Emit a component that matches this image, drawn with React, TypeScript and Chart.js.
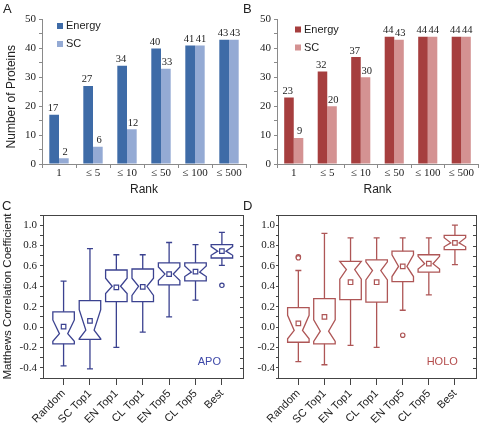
import React, { useEffect, useRef } from 'react';
import { Chart, registerables } from 'chart.js';

Chart.register(...registerables);

// ---------- data ----------
const rankLabels = ['1', '≤ 5', '≤ 10', '≤ 50', '≤ 100', '≤ 500'];
const apoEnergy = [17, 27, 34, 40, 41, 43];
const apoSC = [2, 6, 12, 33, 41, 43];
const holoEnergy = [23, 32, 37, 44, 44, 44];
const holoSC = [9, 20, 30, 43, 44, 44];
const proteinTickLabels = ['0', '10', '20', '30', '40', '50'];

const methods = ['Random', 'SC Top1', 'EN Top1', 'CL Top1', 'EN Top5', 'CL Top5', 'Best'];
const mccTickLabels = ['-0.4', '-0.2', '0.0', '0.2', '0.4', '0.6', '0.8', '1.0'];

const apoWhiskerHigh = [0.45, 0.77, 0.71, 0.71, 0.83, 0.81, 0.93];
const apoQ3 = [0.15, 0.26, 0.56, 0.57, 0.63, 0.63, 0.81];
const apoNotchHigh = [0.07, 0.17, 0.48, 0.48, 0.59, 0.6, 0.79];
const apoMedian = [-0.065, -0.03, 0.4, 0.4, 0.52, 0.54, 0.745];
const apoNotchLow = [-0.14, -0.115, 0.33, 0.31, 0.456, 0.496, 0.705];
const apoQ1 = [-0.165, -0.12, 0.25, 0.25, 0.414, 0.453, 0.678];
const apoWhiskerLow = [-0.38, -0.41, -0.2, -0.05, 0.1, 0.265, 0.605];
const apoMean = [0.005, 0.06, 0.39, 0.395, 0.52, 0.545, 0.745];
const apoOutlierMethod = [7];
const apoOutlierValue = [0.41];

const holoWhiskerHigh = [0.555, 0.92, 0.875, 0.875, 0.875, 0.875, 1.0];
const holoQ3 = [0.19, 0.28, 0.645, 0.66, 0.745, 0.71, 0.9];
const holoNotchHigh = [0.116, 0.07, 0.645, 0.64, 0.71, 0.694, 0.877];
const holoMedian = [-0.033, -0.04, 0.565, 0.555, 0.595, 0.622, 0.827];
const holoNotchLow = [-0.115, -0.14, 0.47, 0.463, 0.496, 0.569, 0.788];
const holoQ1 = [-0.149, -0.165, 0.27, 0.245, 0.446, 0.539, 0.761];
const holoWhiskerLow = [-0.34, -0.37, -0.18, -0.2, 0.165, 0.315, 0.612];
const holoMean = [0.036, 0.1, 0.44, 0.44, 0.595, 0.622, 0.827];
const holoOutlierMethod = [1, 1, 5];
const holoOutlierValue = [0.69, 0.68, -0.08];

// ---------- styles ----------
const SANS = '"Liberation Sans", Arial, sans-serif';
const SERIF = '"Liberation Serif", "Times New Roman", serif';
const TEXT = '#222';
const AXIS_GRAY = '#8a8a8a';
const FRAME = '#444';

// ---------- plugins ----------
const valueLabels = {
  id: 'valueLabels',
  afterDatasetsDraw(chart: any) {
    const ctx = chart.ctx;
    ctx.save();
    ctx.font = `10.5px ${SERIF}`;
    ctx.fillStyle = TEXT;
    ctx.textAlign = 'center';
    ctx.textBaseline = 'bottom';
    chart.data.datasets.forEach((ds: any, i: number) => {
      const meta = chart.getDatasetMeta(i);
      const shift = i === 0 ? -1.2 : 1.2;
      meta.data.forEach((bar: any, j: number) => {
        ctx.fillText(String(ds.data[j]), bar.x + shift, bar.y - 1);
      });
    });
    ctx.restore();
  },
};

function innerLegend(dx: number, dy: number, gap: number, box: number) {
  return {
    id: 'innerLegend',
    afterDraw(chart: any) {
      const ctx = chart.ctx;
      const { left, top } = chart.chartArea;
      ctx.save();
      ctx.font = `11px ${SANS}`;
      ctx.textBaseline = 'middle';
      ctx.textAlign = 'left';
      chart.data.datasets.forEach((ds: any, i: number) => {
        const y = top + dy + i * gap;
        ctx.fillStyle = ds.backgroundColor;
        ctx.fillRect(left + dx, y - box / 2, box, box);
        ctx.fillStyle = TEXT;
        ctx.fillText(ds.label, left + dx + box + 3, y);
      });
      ctx.restore();
    },
  };
}

function frameAndBoxes(stats: any, color: string, tag: string, tagColor: string, tagDx: number, tagDy: number) {
  return {
    id: 'boxes',
    beforeDatasetsDraw(chart: any) {
      const ctx = chart.ctx;
      const xs = chart.scales.x;
      const ys = chart.scales.y;
      const { left, right, top, bottom } = chart.chartArea;
      ctx.save();
      // frame
      ctx.strokeStyle = FRAME;
      ctx.lineWidth = 1;
      ctx.strokeRect(Math.round(left) + 0.5, Math.round(top) + 0.5, Math.round(right - left), Math.round(bottom - top));
      // inward ticks on the right side
      ctx.beginPath();
      ys.ticks.forEach((t: any) => {
        const y = Math.round(ys.getPixelForValue(t.value)) + 0.5;
        ctx.moveTo(Math.round(right), y);
        ctx.lineTo(Math.round(right) - 3, y);
      });
      ctx.stroke();

      // boxes
      const halfW = 10.75;
      const inset = 6.6;
      const cap = 3;
      ctx.strokeStyle = color;
      ctx.lineWidth = 1.3;
      ctx.lineJoin = 'miter';
      const py = (v: number) => ys.getPixelForValue(v);
      for (let i = 0; i < stats.q3.length; i++) {
        const x = xs.getPixelForValue(i + 1);
        const q3 = py(stats.q3[i]);
        const q1 = py(stats.q1[i]);
        const med = py(stats.median[i]);
        const nHi = py(Math.min(stats.notchHigh[i], stats.q3[i]));
        const nLo = py(Math.max(stats.notchLow[i], stats.q1[i]));
        const L = x - halfW;
        const R = x + halfW;
        ctx.beginPath();
        ctx.moveTo(L, q3);
        ctx.lineTo(R, q3);
        ctx.lineTo(R, nHi);
        ctx.lineTo(R - inset, med);
        ctx.lineTo(R, nLo);
        ctx.lineTo(R, q1);
        ctx.lineTo(L, q1);
        ctx.lineTo(L, nLo);
        ctx.lineTo(L + inset, med);
        ctx.lineTo(L, nHi);
        ctx.closePath();
        ctx.stroke();
        const wh = py(stats.whiskerHigh[i]);
        const wl = py(stats.whiskerLow[i]);
        ctx.beginPath();
        ctx.moveTo(x, q3);
        ctx.lineTo(x, wh);
        ctx.moveTo(x - cap, wh);
        ctx.lineTo(x + cap, wh);
        ctx.moveTo(x, q1);
        ctx.lineTo(x, wl);
        ctx.moveTo(x - cap, wl);
        ctx.lineTo(x + cap, wl);
        ctx.stroke();
      }
      // tag text
      ctx.font = `11px ${SANS}`;
      ctx.fillStyle = tagColor;
      ctx.textAlign = 'right';
      ctx.textBaseline = 'middle';
      ctx.fillText(tag, right + tagDx, bottom + tagDy);
      ctx.restore();
    },
  };
}

// ---------- configs ----------
function barConfig(energy: number[], sc: number[], c1: string, c2: string, yWidth: number, padRight: number, withTitle: boolean, legendDx: number, legendDy: number) {
  return {
    type: 'bar',
    data: {
      labels: rankLabels,
      datasets: [
        { label: 'Energy', data: energy, backgroundColor: c1, categoryPercentage: 0.57, barPercentage: 1, borderWidth: 0 },
        { label: 'SC', data: sc, backgroundColor: c2, categoryPercentage: 0.57, barPercentage: 1, borderWidth: 0 },
      ],
    },
    options: {
      responsive: false,
      animation: false,
      events: [],
      layout: { padding: { top: 19.5, right: padRight, left: 0, bottom: 0 } },
      plugins: { legend: { display: false }, tooltip: { enabled: false } },
      scales: {
        x: {
          afterFit: (s: any) => { s.height = 36; },
          ticks: { font: { family: SERIF, size: 11, lineHeight: 1 }, color: TEXT, padding: 0 },
          grid: { offset: true, drawOnChartArea: false, tickLength: 4, color: AXIS_GRAY },
          border: { color: AXIS_GRAY },
          title: { display: true, text: 'Rank', font: { family: SANS, size: 12 }, color: TEXT, padding: { top: 0, bottom: 3 } },
        },
        y: {
          min: 0,
          max: 50,
          afterFit: (s: any) => { s.width = yWidth; },
          ticks: {
            stepSize: 5,
            autoSkip: false,
            callback: (v: number) => (proteinTickLabels.includes(String(v)) ? String(v) : ''),
            font: { family: SERIF, size: 11 },
            color: TEXT,
            padding: 3,
          },
          grid: { drawOnChartArea: false, tickLength: 3, color: AXIS_GRAY },
          border: { color: AXIS_GRAY },
          title: {
            display: withTitle,
            text: 'Number of Proteins   ',
            font: { family: SANS, size: 12 },
            color: TEXT,
            padding: { top: 4, bottom: 0 },
          },
        },
      },
    },
    plugins: [valueLabels, innerLegend(legendDx, legendDy, 18, 6)],
  };
}

function boxConfig(stats: any, outM: number[], outV: number[], color: string, yWidth: number, padRight: number, withTitle: boolean, tickLen: number, tickPad: number, tag: string, tagColor: string, tagDx: number) {
  return {
    type: 'scatter',
    data: {
      datasets: [
        {
          label: 'mean',
          data: stats.mean.map((m: number, i: number) => ({ x: i + 1, y: m })),
          pointStyle: 'rect',
          pointRadius: 3.2,
          pointBorderWidth: 1.2,
          borderColor: color,
          backgroundColor: '#fff',
        },
        {
          label: 'outliers',
          data: outM.map((m, i) => ({ x: m, y: outV[i] })),
          pointStyle: 'circle',
          pointRadius: 2.2,
          pointBorderWidth: 1.2,
          borderColor: color,
          backgroundColor: '#fff',
        },
      ],
    },
    options: {
      responsive: false,
      animation: false,
      events: [],
      layout: { padding: { top: 10, right: padRight, left: 0, bottom: 0 } },
      plugins: { legend: { display: false }, tooltip: { enabled: false } },
      scales: {
        x: {
          type: 'linear',
          min: 0.22,
          max: 7.8,
          afterBuildTicks: (s: any) => { s.ticks = methods.map((_, i) => ({ value: i + 1 })); },
          afterFit: (s: any) => { s.height = 46; },
          ticks: {
            autoSkip: false,
            minRotation: 45,
            maxRotation: 45,
            padding: 2,
            callback: (v: number) => methods[Math.round(v) - 1] ?? '',
            font: { family: SANS, size: 11 },
            color: TEXT,
          },
          grid: { drawOnChartArea: false, tickLength: 7, color: FRAME },
          border: { color: FRAME },
        },
        y: {
          min: -0.5,
          max: 1.1,
          afterFit: (s: any) => { s.width = yWidth; },
          ticks: {
            stepSize: 0.1,
            autoSkip: false,
            callback: (v: number) => {
              const s = (Math.round(v * 10) / 10).toFixed(1);
              return mccTickLabels.includes(s) ? s : '';
            },
            font: { family: SERIF, size: 11 },
            color: TEXT,
            padding: tickPad,
          },
          grid: { drawOnChartArea: false, tickLength: tickLen, color: FRAME },
          border: { color: FRAME },
          title: {
            display: withTitle,
            text: 'Matthews Correlation Coefficient',
            font: { family: SANS, size: 11.5 },
            color: TEXT,
            padding: { top: 1, bottom: 0 },
          },
        },
      },
    },
    plugins: [frameAndBoxes(stats, color, tag, tagColor, tagDx, -16)],
  };
}

const apoStats = {
  whiskerHigh: apoWhiskerHigh, q3: apoQ3, notchHigh: apoNotchHigh, median: apoMedian,
  notchLow: apoNotchLow, q1: apoQ1, whiskerLow: apoWhiskerLow, mean: apoMean,
};
const holoStats = {
  whiskerHigh: holoWhiskerHigh, q3: holoQ3, notchHigh: holoNotchHigh, median: holoMedian,
  notchLow: holoNotchLow, q1: holoQ1, whiskerLow: holoWhiskerLow, mean: holoMean,
};

function ChartCanvas({ make, left, top, width, height }: any) {
  const ref = useRef<HTMLCanvasElement>(null);
  useEffect(() => {
    const chart = new Chart(ref.current as HTMLCanvasElement, make());
    return () => chart.destroy();
  }, []);
  return (
    <canvas
      ref={ref}
      width={width}
      height={height}
      style={{ position: 'absolute', left, top, width, height }}
    />
  );
}

const letterStyle: any = {
  position: 'absolute',
  fontFamily: SANS,
  fontSize: 13,
  lineHeight: '13px',
  color: TEXT,
};

export default function App() {
  return (
    <div style={{ position: 'absolute', left: 0, top: 0, width: 481, height: 424, background: '#fff', overflow: 'hidden' }}>
      <ChartCanvas
        left={0} top={0} width={250} height={200}
        make={() => barConfig(apoEnergy, apoSC, '#3e6ba7', '#94aad4', 42, 4, true, 15, 6.5)}
      />
      <ChartCanvas
        left={250} top={0} width={231} height={200}
        make={() => barConfig(holoEnergy, holoSC, '#a63e3e', '#d49292', 27, 3, false, 18, 10)}
      />
      <ChartCanvas
        left={0} top={205} width={250} height={219}
        make={() => boxConfig(apoStats, apoOutlierMethod, apoOutlierValue, '#3b4290', 43, 7, true, 3, 3, 'APO', '#3e48a8', -22)}
      />
      <ChartCanvas
        left={250} top={205} width={231} height={219}
        make={() => boxConfig(holoStats, holoOutlierMethod, holoOutlierValue, '#ae5656', 28, 2, false, 2, 1, 'HOLO', '#b44c4c', -18)}
      />
      <div style={{ ...letterStyle, left: 3, top: 2 }}>A</div>
      <div style={{ ...letterStyle, left: 243, top: 2 }}>B</div>
      <div style={{ ...letterStyle, left: 2, top: 199 }}>C</div>
      <div style={{ ...letterStyle, left: 243, top: 199 }}>D</div>
    </div>
  );
}
